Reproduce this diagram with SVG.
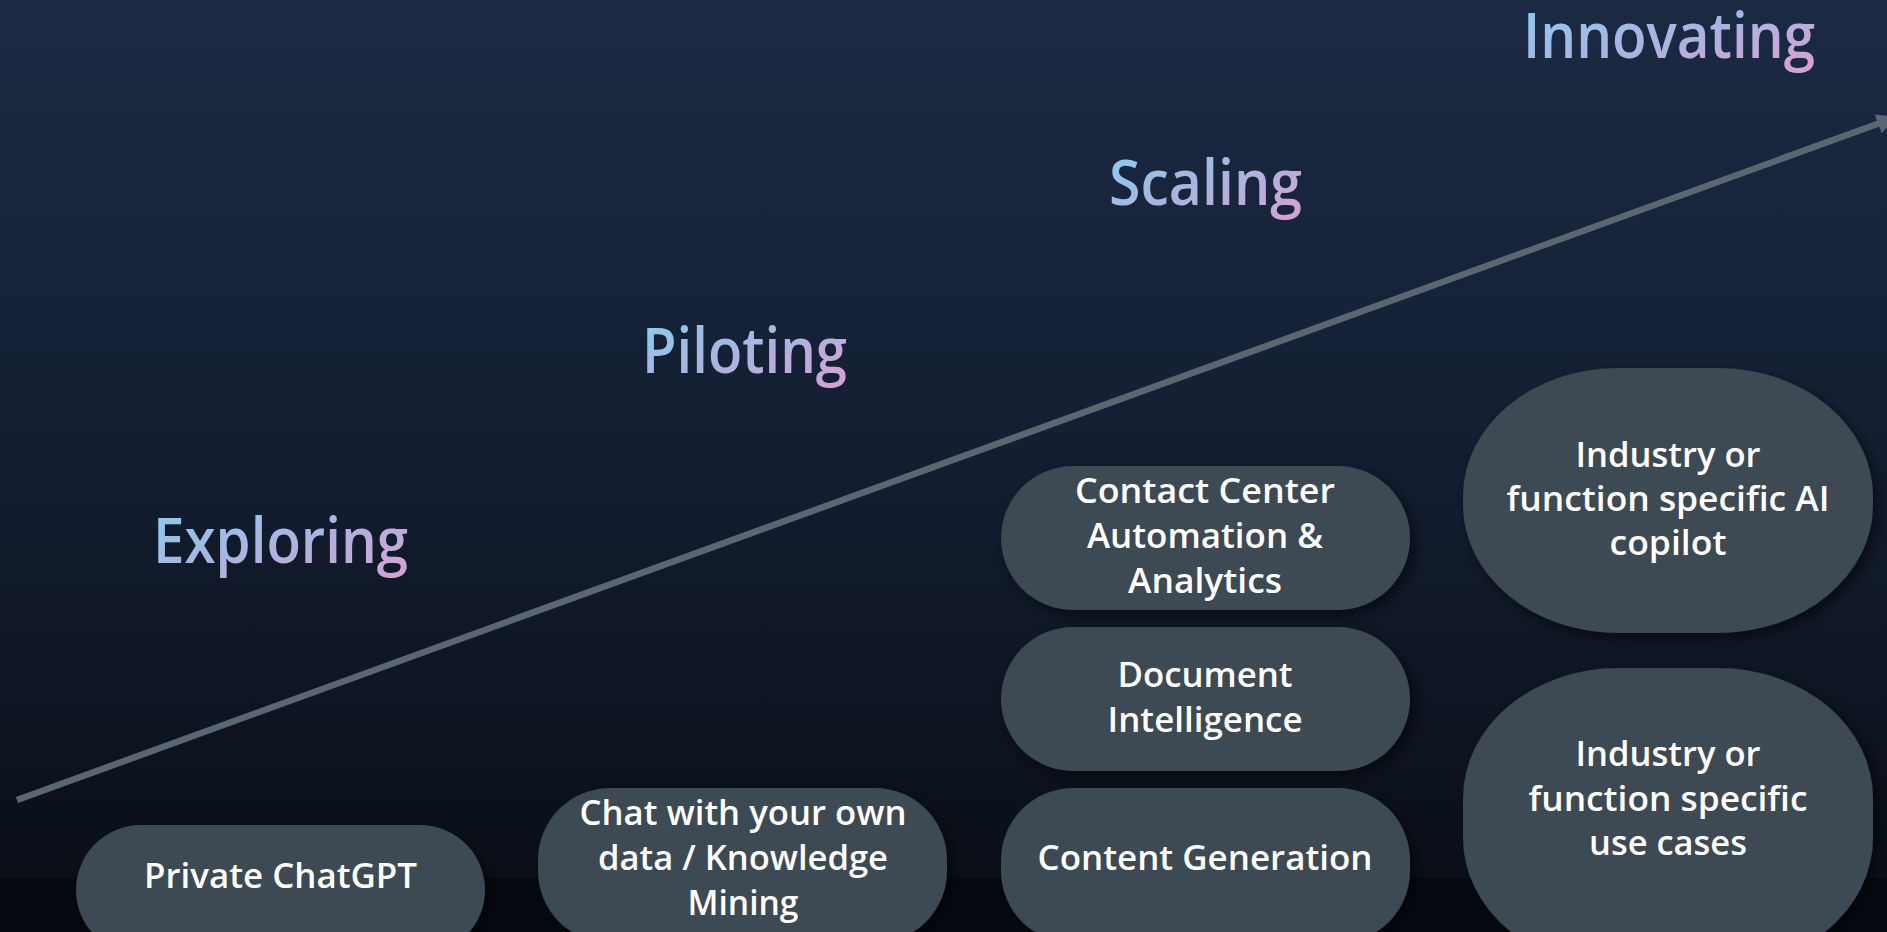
<svg xmlns="http://www.w3.org/2000/svg" width="1887" height="932" viewBox="0 0 1887 932">
  <defs>
    <linearGradient id="bg" x1="0" y1="0" x2="0" y2="1">
      <stop offset="0" stop-color="#1b2a43"/>
      <stop offset="0.45" stop-color="#141f33"/>
      <stop offset="0.94" stop-color="#0a0f18"/>
    </linearGradient>
    <linearGradient id="head" x1="0" y1="0" x2="1" y2="1">
      <stop offset="0" stop-color="#84d0f0"/>
      <stop offset="0.5" stop-color="#a9b5e0"/>
      <stop offset="1" stop-color="#d9a0d2"/>
    </linearGradient>
    <filter id="sh" x="-10%" y="-10%" width="125%" height="130%">
      <feDropShadow dx="5" dy="5" stdDeviation="7" flood-color="#000000" flood-opacity="0.55"/>
    </filter>
    <style>
      .pill { fill: #3c4853; filter: url(#sh); }
      .lbl { font-family: "Open Sans", "Noto Sans", "Liberation Sans", sans-serif; font-size: 35px; fill: #ffffff; text-anchor: middle; font-weight: 600; }
      .head { font-family: "Open Sans", "Noto Sans", "Liberation Sans", sans-serif; font-size: 63px; fill: url(#head); font-weight: 600; }
      .conn { stroke: #5b6673; stroke-width: 6.5; fill: none; }
    </style>
  </defs>

  <rect x="0" y="0" width="1887" height="932" fill="url(#bg)"/>
  <rect x="0" y="878" width="1887" height="54" fill="#040a10"/>

  <g id="connectors">
    <line class="conn" x1="17" y1="800" x2="1880" y2="123"/>
    <polygon points="1897,117 1881.6,133.2 1874.8,114.4" fill="#5b6673"/>
  </g>

  <g id="stage-exploring">
    <text class="head" x="153" y="563" textLength="255" lengthAdjust="spacingAndGlyphs">Exploring</text>
  </g>
  <g id="stage-piloting">
    <text class="head" x="642" y="373" textLength="205" lengthAdjust="spacingAndGlyphs">Piloting</text>
  </g>
  <g id="stage-scaling">
    <text class="head" x="1109" y="205" textLength="193" lengthAdjust="spacingAndGlyphs">Scaling</text>
  </g>
  <g id="stage-innovating">
    <text class="head" x="1523" y="58" textLength="292" lengthAdjust="spacingAndGlyphs">Innovating</text>
  </g>

  <g id="node-private-chatgpt">
    <rect class="pill" x="76" y="825" width="409" height="130" rx="65" ry="65"/>
    <text class="lbl" x="280.5" y="888" textLength="273" lengthAdjust="spacingAndGlyphs">Private ChatGPT</text>
  </g>

  <g id="node-chat-own-data">
    <rect class="pill" x="538" y="788" width="409" height="155" rx="72" ry="72"/>
    <text class="lbl" x="743" y="825" textLength="327" lengthAdjust="spacingAndGlyphs">Chat with your own</text>
    <text class="lbl" x="743" y="870" textLength="290" lengthAdjust="spacingAndGlyphs">data / Knowledge</text>
    <text class="lbl" x="743" y="915" textLength="111" lengthAdjust="spacingAndGlyphs">Mining</text>
  </g>

  <g id="node-contact-center">
    <rect class="pill" x="1001" y="466" width="409" height="144" rx="72" ry="72"/>
    <text class="lbl" x="1205" y="503" textLength="260" lengthAdjust="spacingAndGlyphs">Contact Center</text>
    <text class="lbl" x="1205" y="548" textLength="236" lengthAdjust="spacingAndGlyphs">Automation &amp;</text>
    <text class="lbl" x="1205" y="593" textLength="154" lengthAdjust="spacingAndGlyphs">Analytics</text>
  </g>

  <g id="node-document-intelligence">
    <rect class="pill" x="1001" y="627" width="409" height="144" rx="72" ry="72"/>
    <text class="lbl" x="1205" y="687" textLength="175" lengthAdjust="spacingAndGlyphs">Document</text>
    <text class="lbl" x="1205" y="732" textLength="195" lengthAdjust="spacingAndGlyphs">Intelligence</text>
  </g>

  <g id="node-content-generation">
    <rect class="pill" x="1001" y="788" width="409" height="155" rx="72" ry="72"/>
    <text class="lbl" x="1205" y="870" textLength="335" lengthAdjust="spacingAndGlyphs">Content Generation</text>
  </g>

  <g id="node-ai-copilot">
    <rect class="pill" x="1463" y="368" width="410" height="265" rx="155" ry="128"/>
    <text class="lbl" x="1668" y="467" textLength="185" lengthAdjust="spacingAndGlyphs">Industry or</text>
    <text class="lbl" x="1668" y="511" textLength="323" lengthAdjust="spacingAndGlyphs">function specific AI</text>
    <text class="lbl" x="1668" y="555" textLength="117" lengthAdjust="spacingAndGlyphs">copilot</text>
  </g>

  <g id="node-use-cases">
    <rect class="pill" x="1463" y="668" width="410" height="300" rx="155" ry="130"/>
    <text class="lbl" x="1668" y="766" textLength="185" lengthAdjust="spacingAndGlyphs">Industry or</text>
    <text class="lbl" x="1668" y="811" textLength="279" lengthAdjust="spacingAndGlyphs">function specific</text>
    <text class="lbl" x="1668" y="855" textLength="158" lengthAdjust="spacingAndGlyphs">use cases</text>
  </g>
</svg>
